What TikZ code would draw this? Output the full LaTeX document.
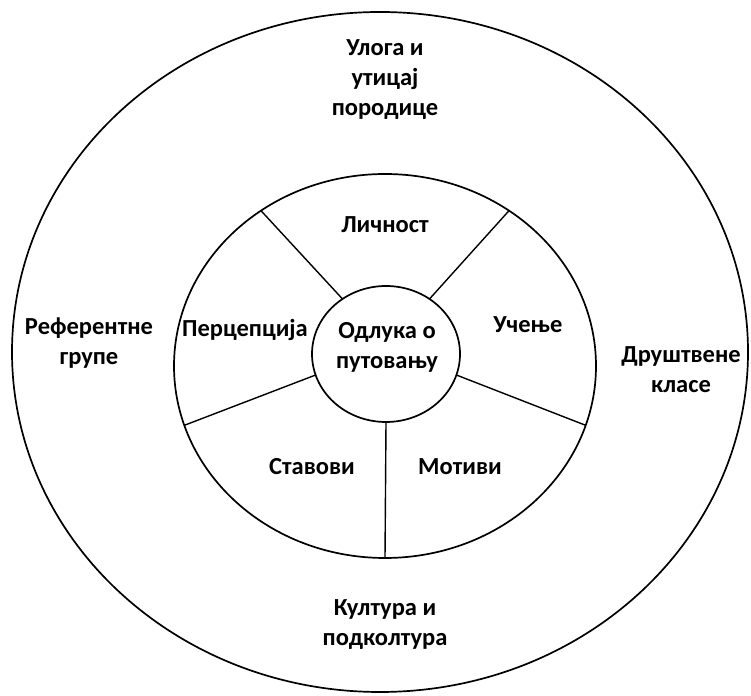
\documentclass[tikz,border=0pt]{standalone}
\usepackage{fontspec}
\setmainfont{Carlito}
\usetikzlibrary{calc}
\tikzset{
  lbl/.style={font=\fontsize{24.5}{30}\selectfont\bfseries, align=center, inner sep=0pt, text=black},
  ring/.style={draw=black, line width=1.7pt},
  spoke/.style={draw=black, line width=1.4pt}
}
\begin{document}
\begin{tikzpicture}[x=1pt,y=1pt]
\useasboundingbox (0,0) rectangle (751,695);
\fill[white] (0,0) rectangle (751,695);
\coordinate (oc) at (380,343);
\coordinate (mc) at (385,329);
\coordinate (cc) at (386,341);
% rings
\draw[ring] (oc) ellipse [x radius=368pt, y radius=340pt];
\draw[ring] (mc) ellipse [x radius=211pt, y radius=192pt];
\draw[ring] (cc) ellipse [x radius=74pt, y radius=68pt];
% spokes
\foreach \a/\n in {126/ul,54/ur,198/ll,-18/lr,-90/bt}{
  \coordinate (in\n) at ($(cc)+(\a:74pt and 68pt)$);
  \coordinate (out\n) at ($(mc)+(\a:211pt and 192pt)$);
  \draw[spoke] (in\n) -- (out\n);
}
% labels
\node[lbl] (fam) at (385,615) {Улога и\\утицај\\породице};
\node[lbl] (lic) at (385,470) {Личност};
\node[lbl] (per) at (245,365) {Перцепција};
\node[lbl] (uce) at (528,370) {Учење};
\node[lbl] (odl) at (387,348) {Одлука о\\путовању};
\node[lbl] (sta) at (312,228) {Ставови};
\node[lbl] (mot) at (460,228) {Мотиви};
\node[lbl] (ref) at (89,352) {Референтне\\групе};
\node[lbl] (dru) at (681,325) {Друштвене\\класе};
\node[lbl] (kul) at (385,70) {Култура и\\подколтура};
\end{tikzpicture}
\end{document}
